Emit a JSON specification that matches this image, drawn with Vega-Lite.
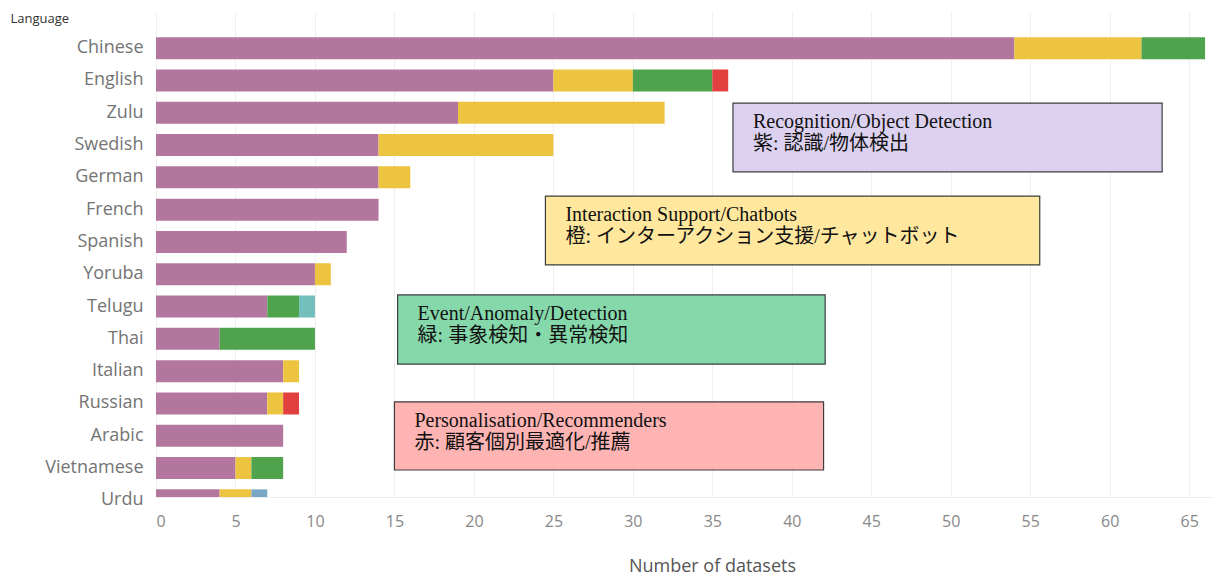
{
  "$schema": "https://vega.github.io/schema/vega-lite/v6.json",
  "autosize": {"type": "none"},
  "width": 1057,
  "height": 465,
  "padding": {"left": 156, "top": 32, "right": 6, "bottom": 81},
  "background": "white",
  "config": {"view": {"stroke": null}},
  "datasets": {
    "bars": [
      {"language": "Chinese", "category": "Recognition/Object Detection", "count": 54},
      {"language": "Chinese", "category": "Interaction Support/Chatbots", "count": 8},
      {"language": "Chinese", "category": "Event/Anomaly/Detection", "count": 4},
      {"language": "English", "category": "Recognition/Object Detection", "count": 25},
      {"language": "English", "category": "Interaction Support/Chatbots", "count": 5},
      {"language": "English", "category": "Event/Anomaly/Detection", "count": 5},
      {"language": "English", "category": "Personalisation/Recommenders", "count": 1},
      {"language": "Zulu", "category": "Recognition/Object Detection", "count": 19},
      {"language": "Zulu", "category": "Interaction Support/Chatbots", "count": 13},
      {"language": "Swedish", "category": "Recognition/Object Detection", "count": 14},
      {"language": "Swedish", "category": "Interaction Support/Chatbots", "count": 11},
      {"language": "German", "category": "Recognition/Object Detection", "count": 14},
      {"language": "German", "category": "Interaction Support/Chatbots", "count": 2},
      {"language": "French", "category": "Recognition/Object Detection", "count": 14},
      {"language": "Spanish", "category": "Recognition/Object Detection", "count": 12},
      {"language": "Yoruba", "category": "Recognition/Object Detection", "count": 10},
      {"language": "Yoruba", "category": "Interaction Support/Chatbots", "count": 1},
      {"language": "Telugu", "category": "Recognition/Object Detection", "count": 7},
      {"language": "Telugu", "category": "Event/Anomaly/Detection", "count": 2},
      {"language": "Telugu", "category": "Other A", "count": 1},
      {"language": "Thai", "category": "Recognition/Object Detection", "count": 4},
      {"language": "Thai", "category": "Event/Anomaly/Detection", "count": 6},
      {"language": "Italian", "category": "Recognition/Object Detection", "count": 8},
      {"language": "Italian", "category": "Interaction Support/Chatbots", "count": 1},
      {"language": "Russian", "category": "Recognition/Object Detection", "count": 7},
      {"language": "Russian", "category": "Interaction Support/Chatbots", "count": 1},
      {"language": "Russian", "category": "Personalisation/Recommenders", "count": 1},
      {"language": "Arabic", "category": "Recognition/Object Detection", "count": 8},
      {"language": "Vietnamese", "category": "Recognition/Object Detection", "count": 5},
      {"language": "Vietnamese", "category": "Interaction Support/Chatbots", "count": 1},
      {"language": "Vietnamese", "category": "Event/Anomaly/Detection", "count": 2},
      {"language": "Urdu", "category": "Recognition/Object Detection", "count": 4},
      {"language": "Urdu", "category": "Interaction Support/Chatbots", "count": 2},
      {"language": "Urdu", "category": "Other B", "count": 1}
    ],
    "categories": [
      {"category": "Recognition/Object Detection", "rank": 1},
      {"category": "Interaction Support/Chatbots", "rank": 2},
      {"category": "Event/Anomaly/Detection", "rank": 3},
      {"category": "Personalisation/Recommenders", "rank": 4},
      {"category": "Other A", "rank": 5},
      {"category": "Other B", "rank": 6}
    ],
    "notes": [
      {"label": "Recognition/Object Detection\n紫: 認識/物体検出", "x1": 36.3, "x2": 63.3, "r1": 1.70, "r2": 3.83, "kind": "purple"},
      {"label": "Interaction Support/Chatbots\n橙: インターアクション支援/チャットボット", "x1": 24.5, "x2": 55.6, "r1": 4.58, "r2": 6.71, "kind": "yellow"},
      {"label": "Event/Anomaly/Detection\n緑: 事象検知・異常検知", "x1": 15.2, "x2": 42.1, "r1": 7.64, "r2": 9.78, "kind": "green"},
      {"label": "Personalisation/Recommenders\n赤: 顧客個別最適化/推薦", "x1": 15.0, "x2": 42.0, "r1": 10.95, "r2": 13.06, "kind": "red"}
    ]
  },
  "layer": [
    {
      "data": {"name": "bars"},
      "transform": [
        {"lookup": "category", "from": {"data": {"name": "categories"}, "key": "category", "fields": ["rank"]}}
      ],
      "mark": {"type": "bar", "clip": true},
      "encoding": {
        "y": {
          "field": "language",
          "type": "nominal",
          "sort": ["Chinese", "English", "Zulu", "Swedish", "German", "French", "Spanish", "Yoruba", "Telugu", "Thai", "Italian", "Russian", "Arabic", "Vietnamese", "Urdu"],
          "scale": {"range": [0, 484.5], "paddingInner": 0.32, "paddingOuter": 0.16},
          "axis": {
            "title": "Language",
            "titleAngle": 0,
            "titleAlign": "left",
            "titleBaseline": "middle",
            "titleX": -146,
            "titleY": -14,
            "titleFont": "Open Sans",
            "titleFontSize": 13,
            "titleFontWeight": "normal",
            "titleColor": "#333333",
            "labelFont": "Open Sans",
            "labelFontSize": 18,
            "labelColor": "#747474",
            "labelPadding": 13,
            "ticks": false,
            "domain": false,
            "grid": false
          }
        },
        "x": {
          "field": "count",
          "type": "quantitative",
          "aggregate": "sum",
          "stack": "zero",
          "scale": {"domain": [0, 66.5], "nice": false},
          "axis": {
            "title": "Number of datasets",
            "values": [0, 5, 10, 15, 20, 25, 30, 35, 40, 45, 50, 55, 60, 65],
            "titleFont": "Open Sans",
            "titleFontSize": 18,
            "titleFontWeight": "normal",
            "titleColor": "#555555",
            "titleX": 556,
            "titleY": 69,
            "titleBaseline": "middle",
            "labelFont": "Open Sans",
            "labelFontSize": 16,
            "labelColor": "#888888",
            "labelPadding": 16,
            "ticks": false,
            "domain": true,
            "domainColor": "#eeeeee",
            "gridColor": "#efefef",
            "gridWidth": 1
          }
        },
        "color": {
          "field": "category",
          "type": "nominal",
          "scale": {
            "domain": ["Recognition/Object Detection", "Interaction Support/Chatbots", "Event/Anomaly/Detection", "Personalisation/Recommenders", "Other A", "Other B"],
            "range": ["#b3779f", "#ecc440", "#4ea34c", "#e2403f", "#72bfbd", "#7aa6c6"]
          },
          "legend": null
        },
        "order": {"field": "rank", "type": "quantitative", "sort": "ascending"}
      }
    },
    {
      "data": {"name": "notes"},
      "mark": {"type": "rect", "stroke": "#333333", "strokeWidth": 1.2, "opacity": 0.95},
      "encoding": {
        "x": {"field": "x1", "type": "quantitative"},
        "x2": {"field": "x2"},
        "y": {"field": "r1", "type": "quantitative", "scale": {"domain": [-0.5, 13.896], "reverse": true, "nice": false, "zero": false}, "axis": null},
        "y2": {"field": "r2"},
        "fill": {
          "field": "kind",
          "type": "nominal",
          "scale": {"domain": ["purple", "yellow", "green", "red"], "range": ["#dccff0", "#ffe699", "#7fd6a6", "#ffb0b0"]},
          "legend": null
        }
      }
    },
    {
      "data": {"name": "notes"},
      "mark": {"type": "text", "align": "left", "baseline": "top", "dx": 20, "dy": 9, "font": "Liberation Serif, Noto Sans CJK JP", "fontSize": 20, "lineHeight": 22, "lineBreak": "\n", "color": "#111111"},
      "encoding": {
        "x": {"field": "x1", "type": "quantitative"},
        "y": {"field": "r1", "type": "quantitative", "scale": {"domain": [-0.5, 13.896], "reverse": true, "nice": false, "zero": false}, "axis": null},
        "text": {"field": "label"}
      }
    }
  ],
  "resolve": {"scale": {"y": "independent", "color": "independent"}}
}
